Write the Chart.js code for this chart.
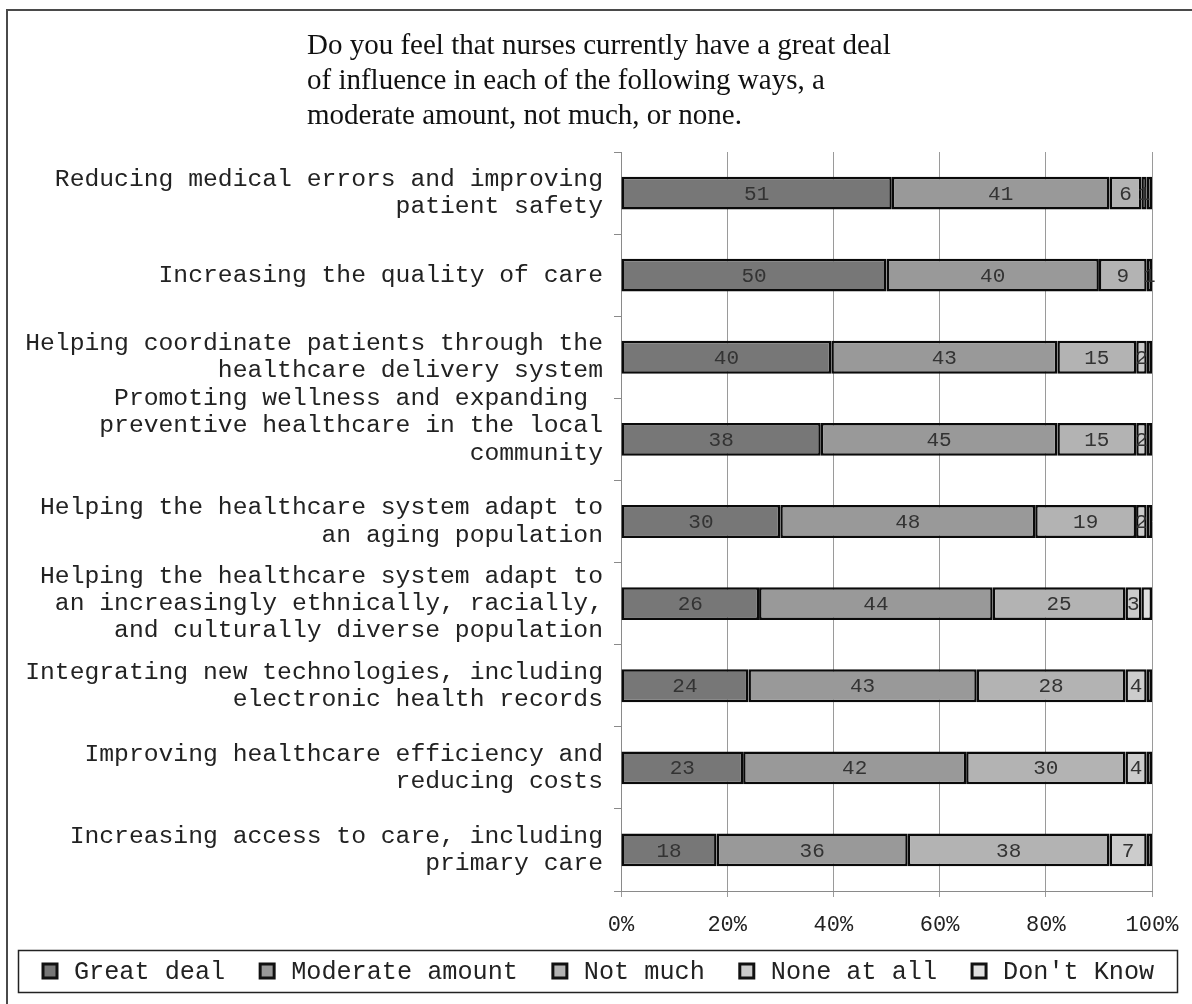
<!DOCTYPE html>
<html>
<head>
<meta charset="utf-8">
<script src="https://cdn.jsdelivr.net/npm/chart.js@4.4.1/dist/chart.umd.min.js"></script>
<style>
  html, body { margin: 0; padding: 0; background: #fff; }
  #wrap { width: 1192px; height: 1004px; position: relative; }
</style>
</head>
<body>
<div id="wrap"><canvas id="chart" width="1192" height="1004"></canvas></div>
<script>
const titleLines = [
  "Do you feel that nurses currently have a great deal",
  "of influence in each of the following ways, a",
  "moderate amount, not much, or none."
];

// the 4th label carries a stray line break in the original, so it sits a bit high
const categories = [
  ["Reducing medical errors and improving", "patient safety"],
  ["Increasing the quality of care"],
  ["Helping coordinate patients through the", "healthcare delivery system"],
  ["Promoting wellness and expanding ", "preventive healthcare in the local", "community", ""],
  ["Helping the healthcare system adapt to", "an aging population"],
  ["Helping the healthcare system adapt to", "an increasingly ethnically, racially,", "and culturally diverse population"],
  ["Integrating new technologies, including", "electronic health records"],
  ["Improving healthcare efficiency and", "reducing costs"],
  ["Increasing access to care, including", "primary care"]
];

const seriesNames = ["Great deal", "Moderate amount", "Not much", "None at all", "Don't Know"];
const greatDeal = [51, 50, 40, 38, 30, 26, 24, 23, 18];
const moderateAmount = [41, 40, 43, 45, 48, 44, 43, 42, 36];
const notMuch = [6, 9, 15, 15, 19, 25, 28, 30, 38];
const noneAtAll = [1, 1, 2, 2, 2, 3, 4, 4, 7];
const dontKnow = [1, 0, 1, 1, 1, 2, 1, 1, 1];
const xTickValues = [0, 20, 40, 60, 80, 100];

const seriesValues = [greatDeal, moderateAmount, notMuch, noneAtAll, dontKnow];
const seriesColors = ["#777777", "#999999", "#b3b3b3", "#cccccc", "#e0e0e0"];
const labelledSeries = [true, true, true, true, false];

// Excel-style 100% stacking: each row is scaled to its own total
const rowTotals = categories.map((_, j) => seriesValues.reduce((s, arr) => s + arr[j], 0));

const MONO = '"Liberation Mono", "DejaVu Sans Mono", monospace';
const SERIF = '"Liberation Serif", "DejaVu Serif", serif';

const frameAndTitle = {
  id: "frameAndTitle",
  beforeDraw(chart) {
    const ctx = chart.ctx;
    ctx.save();
    ctx.fillStyle = "#fff";
    ctx.fillRect(0, 0, chart.width, chart.height);
    ctx.strokeStyle = "#4a4a4a";
    ctx.lineWidth = 2;
    ctx.strokeRect(7, 10, chart.width + 20, chart.height + 20);
    ctx.fillStyle = "#111";
    ctx.font = "29px " + SERIF;
    ctx.textAlign = "left";
    ctx.textBaseline = "alphabetic";
    titleLines.forEach((line, i) => ctx.fillText(line, 307, 54 + i * 35));
    ctx.restore();
  },
  afterDraw(chart) {
    // legend in a box, Excel style
    const ctx = chart.ctx;
    ctx.save();
    ctx.strokeStyle = "#222";
    ctx.lineWidth = 1.5;
    ctx.strokeRect(18.5, 950.5, 1159, 42);
    ctx.font = "25.2px " + MONO;
    ctx.textAlign = "left";
    ctx.textBaseline = "middle";
    const cy = 971;
    let x = 43;
    chart.data.datasets.forEach((ds) => {
      ctx.fillStyle = ds.backgroundColor;
      ctx.fillRect(x, cy - 7, 14, 14);
      ctx.strokeStyle = "#111";
      ctx.lineWidth = 3;
      ctx.strokeRect(x, cy - 7, 14, 14);
      ctx.fillStyle = "#222";
      ctx.fillText(ds.label, x + 31, cy + 1);
      x += 31 + ctx.measureText(ds.label).width + 35;
    });
    ctx.restore();
  }
};

const segmentLabels = {
  id: "segmentLabels",
  afterDatasetsDraw(chart) {
    const ctx = chart.ctx;
    ctx.save();
    ctx.font = "21px " + MONO;
    ctx.fillStyle = "#333";
    ctx.textAlign = "center";
    ctx.textBaseline = "middle";
    chart.data.datasets.forEach((ds, i) => {
      if (!labelledSeries[i]) return;
      chart.getDatasetMeta(i).data.forEach((bar, j) => {
        const v = seriesValues[i][j];
        if (!v) return;
        const c = bar.getCenterPoint();
        ctx.fillText(String(v), c.x, c.y + 1);
      });
    });
    ctx.restore();
  }
};

const datasets = seriesNames.map((name, i) => ({
  label: name,
  data: seriesValues[i].map((v, j) => (v / rowTotals[j]) * 100),
  backgroundColor: seriesColors[i],
  borderColor: "#0a0a0a",
  borderWidth: 2.5,
  borderSkipped: false,
  barPercentage: 0.4,
  categoryPercentage: 1
}));

new Chart(document.getElementById("chart"), {
  type: "bar",
  data: { labels: categories, datasets },
  plugins: [frameAndTitle, segmentLabels],
  options: {
    indexAxis: "y",
    responsive: false,
    animation: false,
    layout: { padding: { top: 152, left: 0, right: 0, bottom: 54 } },
    plugins: {
      title: { display: false },
      tooltip: { enabled: false },
      legend: { display: false }
    },
    scales: {
      x: {
        stacked: true,
        min: 0,
        max: 100,
        afterBuildTicks(scale) {
          scale.ticks = xTickValues.map((v) => ({ value: v }));
        },
        afterFit(scale) {
          scale.height = 59;
          scale.paddingRight = 40;
        },
        ticks: {
          callback: (v) => v + "%",
          font: { family: MONO, size: 22 },
          color: "#222",
          padding: 15,
          maxRotation: 0
        },
        grid: { color: "#9a9a9a", lineWidth: 1, tickLength: 6, drawTicks: true },
        border: { color: "#8a8a8a", width: 1 }
      },
      y: {
        stacked: true,
        afterFit(scale) { scale.width = 621; },
        ticks: {
          font: { family: MONO, size: 24.7, lineHeight: 1.1 },
          color: "#222",
          padding: 11,
          autoSkip: false
        },
        grid: { offset: true, drawOnChartArea: false, drawTicks: true, tickLength: 7, color: "#8a8a8a" },
        border: { color: "#8a8a8a", width: 1 }
      }
    }
  }
});
</script>
</body>
</html>
